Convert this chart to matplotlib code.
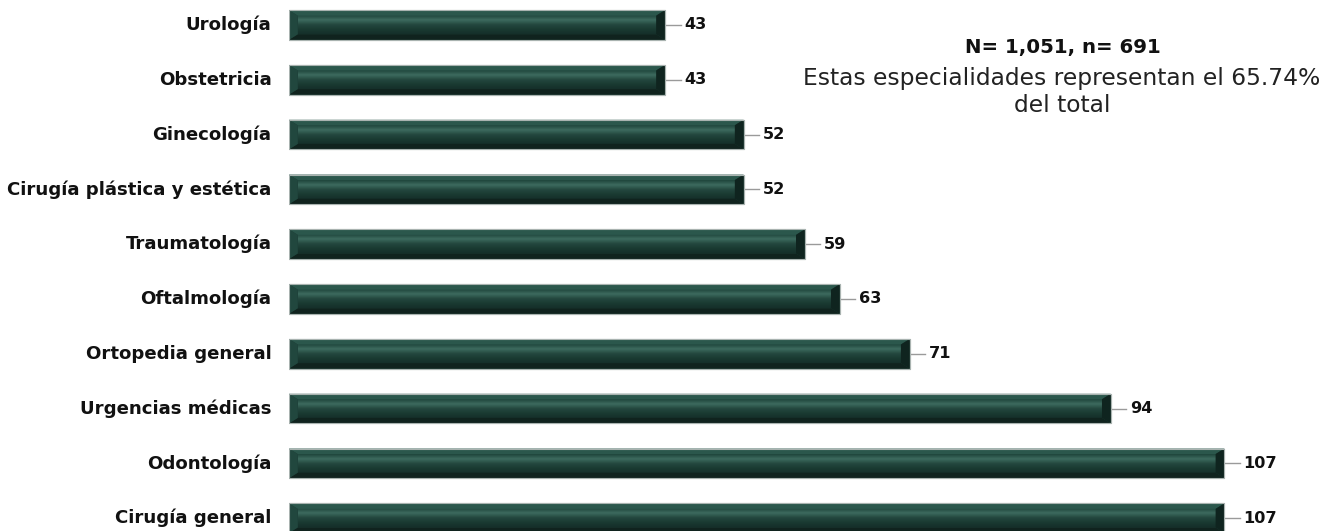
import matplotlib
matplotlib.use("Agg")
import matplotlib.pyplot as plt
import numpy as np
from matplotlib.patches import Polygon, Rectangle
from matplotlib.colors import LinearSegmentedColormap

# especialidades, de arriba hacia abajo
especialidades = ["Urología", "Obstetricia", "Ginecología", "Cirugía plástica y estética",
                  "Traumatología", "Oftalmología", "Ortopedia general", "Urgencias médicas",
                  "Odontología", "Cirugía general"]
valores = [43, 43, 52, 52, 59, 63, 71, 94, 107, 107]

titulo = "N= 1,051, n= 691"
nota = "Estas especialidades representan el 65.74%\ndel total"

plt.rcParams['font.family'] = ['DejaVu Sans']

fig = plt.figure(figsize=(13.31, 5.31), dpi=100)
ax = fig.add_axes([289 / 1331, 0, 1 - 289 / 1331, 1])
ax.set_xlim(0, 119.2)
ax.set_ylim(9.234, -0.456)
ax.axis("off")

h = 0.54
dy = 0.10
dx = 1.0
base = "#1b3b33"
face = LinearSegmentedColormap.from_list(
    "cara", ["#1f443b", "#3d6b5f", "#24483f", "#1a3a32", "#15302a"])
grad = np.linspace(0, 1, 64).reshape(-1, 1)

for i, (nombre, v) in enumerate(zip(especialidades, valores)):
    top, bot = i - h / 2, i + h / 2
    bar = ax.barh(i, v, height=h, color=base, edgecolor="#a9b3b0", linewidth=0.8, zorder=2)
    rect = bar.patches[0]
    # cara central con degradado
    im = ax.imshow(grad, cmap=face, aspect="auto", interpolation="bilinear",
                   extent=(dx, v - dx, bot - dy, top + dy), zorder=3)
    im.set_clip_path(rect)
    # biseles
    ax.add_patch(Polygon([(0, top), (v, top), (v - dx, top + dy), (dx, top + dy)],
                         closed=True, color="#2b574c", lw=0, zorder=3))
    ax.add_patch(Polygon([(0, bot), (v, bot), (v - dx, bot - dy), (dx, bot - dy)],
                         closed=True, color="#10231e", lw=0, zorder=3))
    ax.add_patch(Polygon([(0, top), (dx, top + dy), (dx, bot - dy), (0, bot)],
                         closed=True, color="#21473e", lw=0, zorder=3))
    ax.add_patch(Polygon([(v, top), (v - dx, top + dy), (v - dx, bot - dy), (v, bot)],
                         closed=True, color="#0f241f", lw=0, zorder=3))
    ax.add_patch(Rectangle((0, top), v, h, fill=False, edgecolor="#a9b3b0", lw=0.8, zorder=4))

    # línea guía y etiqueta de valor
    ax.plot([v, v + 1.8], [i, i], color="#9a9a9a", lw=1.0, zorder=1)
    ax.text(v + 2.2, i, str(v), ha="left", va="center", fontsize=11.6,
            fontweight="bold", color="#111111")
    # nombre de la especialidad
    ax.text(-2.0, i, nombre, ha="right", va="center", fontsize=13.1,
            fontweight="bold", color="#111111", clip_on=False)

fig.text(1063 / 1331, 1 - 47 / 531, titulo, ha="center", va="center",
         fontsize=14.2, fontweight="bold", color="#111111")
fig.text(1062 / 1331, 1 - 92 / 531, nota, ha="center", va="center",
         fontsize=16.8, color="#222222", linespacing=1.18)

fig.savefig("out.png", dpi=100)
